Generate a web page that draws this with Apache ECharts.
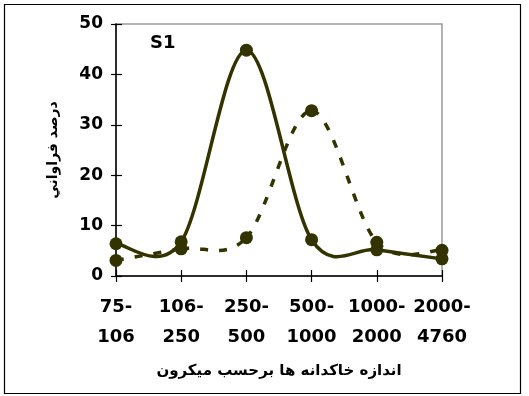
<!DOCTYPE html>
<html>
<head>
<meta charset="utf-8">
<script src="https://cdn.jsdelivr.net/npm/echarts@6/dist/echarts.min.js"></script>
<style>
html,body{margin:0;padding:0;background:#fff;}
#chart{width:529px;height:396px;}
</style>
</head>
<body>
<div id="chart"></div>
<script>
var categories = ['75-\n106', '106-\n250', '250-\n500', '500-\n1000', '1000-\n2000', '2000-\n4760'];
var solidValues = [6.4, 6.8, 44.8, 7.2, 5.2, 3.4];
var dashedValues = [3.1, 5.4, 7.6, 32.8, 6.7, 5.1];
var yTicks = [0, 10, 20, 30, 40, 50];
var yAxisTitle = 'درصد فراواني';
var xAxisTitle = 'اندازه خاكدانه ها برحسب ميكرون';
var seriesLabel = 'S1';

var color = '#333300';

function pairs(arr) { return arr.map(function (v, i) { return [i, v]; }); }

// Excel-like Catmull-Rom smoothing, one bezier per segment, via the axis scales
function smoothRenderer(arr, dash) {
  return function (params, api) {
    var i = params.dataIndex;
    var n = arr.length;
    if (i >= n - 1) return null;
    var p = function (k) {
      k = Math.max(0, Math.min(n - 1, k));
      return api.coord([k, arr[k]]);
    };
    var p0 = p(i - 1), p1 = p(i), p2 = p(i + 1), p3 = p(i + 2);
    var t = 1 / 6;
    return {
      type: 'bezierCurve',
      shape: {
        x1: p1[0], y1: p1[1],
        cpx1: p1[0] + (p2[0] - p0[0]) * t, cpy1: p1[1] + (p2[1] - p0[1]) * t,
        cpx2: p2[0] - (p3[0] - p1[0]) * t, cpy2: p2[1] - (p3[1] - p1[1]) * t,
        x2: p2[0], y2: p2[1]
      },
      style: {fill: 'none', stroke: color, lineWidth: 3.5, lineDash: dash || null}
    };
  };
}

var chart = echarts.init(document.getElementById('chart'), null, {renderer: 'canvas'});
var option = {
  animation: false,
  backgroundColor: '#fff',
  grid: {left: 116, right: 87, top: 24, bottom: 120, show: true, borderColor: '#9a9a9a', borderWidth: 1.5, backgroundColor: 'transparent'},
  xAxis: [{
    type: 'category', data: categories, boundaryGap: false,
    axisLine: {lineStyle: {color: '#000', width: 1.5}},
    axisTick: {length: 6, interval: 0, lineStyle: {color: '#000', width: 1.2}},
    axisLabel: {interval: 0, color: '#000', fontFamily: 'DejaVu Sans', fontWeight: 'bold', fontSize: 18, lineHeight: 30, margin: 16},
    name: xAxisTitle, nameLocation: 'middle', nameGap: 88,
    nameTextStyle: {color: '#000', fontFamily: 'DejaVu Sans', fontWeight: 'bold', fontSize: 15}
  }, {
    type: 'category', data: categories, boundaryGap: false, position: 'bottom',
    axisLine: {show: false},
    axisTick: {inside: true, interval: 0, length: 6, lineStyle: {color: '#000', width: 1.2}},
    axisLabel: {show: false}
  }],
  yAxis: [{
    type: 'value', min: 0, max: 50, interval: 10,
    splitLine: {show: false},
    axisLine: {show: true, lineStyle: {color: '#000', width: 1.5}},
    axisTick: {show: true, length: 5, lineStyle: {color: '#000', width: 1.2}},
    axisLabel: {color: '#000', fontFamily: 'DejaVu Sans', fontWeight: 'bold', fontSize: 17, margin: 13,
      formatter: function (v) { return yTicks.indexOf(v) >= 0 ? String(v) : ''; }},
    name: yAxisTitle, nameLocation: 'middle', nameGap: 56, nameRotate: 90,
    nameTextStyle: {color: '#000', fontFamily: 'DejaVu Sans', fontWeight: 'bold', fontSize: 14}
  }, {
    type: 'value', min: 0, max: 50, interval: 10, position: 'left',
    splitLine: {show: false},
    axisLine: {show: false},
    axisTick: {show: true, inside: true, length: 6, lineStyle: {color: '#000', width: 1.2}},
    axisLabel: {show: false}
  }],
  graphic: [
    {type: 'rect', shape: {x: 4.5, y: 4.5, width: 516, height: 389}, style: {fill: 'none', stroke: '#000', lineWidth: 1.2}, silent: true, z: 100},
    {type: 'text', left: 150, top: 34, style: {text: seriesLabel, fill: '#000', font: 'bold 18px "DejaVu Sans"'}, z: 100}
  ],
  series: [{
    type: 'custom', data: pairs(dashedValues), renderItem: smoothRenderer(dashedValues, [8, 11]),
    encode: {x: 0, y: 1}, clip: false, z: 2
  }, {
    type: 'custom', data: pairs(solidValues), renderItem: smoothRenderer(solidValues, null),
    encode: {x: 0, y: 1}, clip: false, z: 3
  }, {
    type: 'scatter', data: pairs(dashedValues), symbol: 'circle', symbolSize: 13,
    itemStyle: {color: color, opacity: 1}, z: 4
  }, {
    type: 'scatter', data: pairs(solidValues), symbol: 'circle', symbolSize: 13,
    itemStyle: {color: color, opacity: 1}, z: 4
  }]
};
chart.setOption(option);
</script>
</body>
</html>
